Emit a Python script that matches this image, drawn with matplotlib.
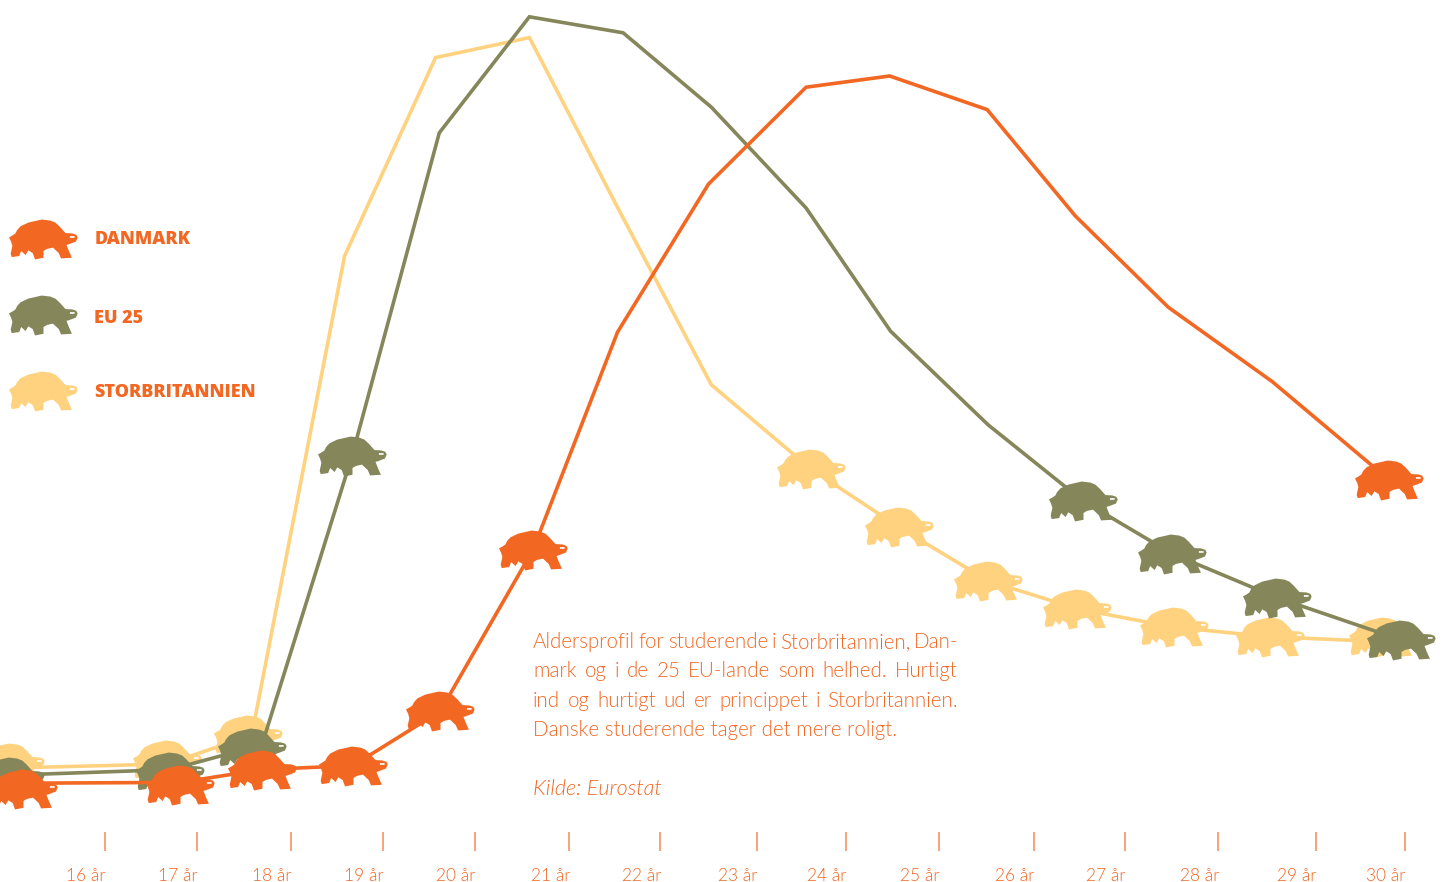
#!/usr/bin/env python3
# -*- coding: utf-8 -*-
# aldersprofil for studerende, tegnet med skildpadder
import matplotlib
matplotlib.use("Agg")
import matplotlib.pyplot as plt
from matplotlib import font_manager as fm
from matplotlib.path import Path
from matplotlib.transforms import ScaledTranslation

#the data: x is position on the age axis, y is share of students
DK_X = [15.12, 16.81, 17.69, 18.67, 19.61, 20.61, 21.52, 22.50, 23.55, 24.45, 25.50, 26.45, 27.45, 28.57, 29.83]
DK_Y = [0.21, 0.22, 0.38, 0.43, 1.11, 3.13, 5.85, 7.70, 8.91, 9.05, 8.63, 7.30, 6.16, 5.23, 4.00]
EU_X = [14.98, 16.70, 17.69, 18.66, 19.60, 20.57, 21.58, 22.53, 23.55, 24.46, 25.51, 26.53, 27.49, 28.62, 29.96]
EU_Y = [0.31, 0.38, 0.69, 4.30, 8.34, 9.79, 9.59, 8.66, 7.40, 5.86, 4.69, 3.74, 3.08, 2.53, 2.00]
UK_X = [14.98, 16.67, 17.58, 18.58, 19.56, 20.57, 21.55, 22.53, 23.60, 24.55, 25.51, 26.47, 27.51, 28.55, 29.76]
UK_Y = [0.40, 0.45, 0.81, 6.80, 9.28, 9.53, 7.34, 5.19, 4.14, 3.41, 2.74, 2.39, 2.16, 2.04, 1.98]

#the turtles sit a little off the line in places, so they get their own lists
DK_TURTLE_X = [15.12, 16.81, 17.69, 18.67, 19.61, 20.61, 29.83]
DK_TURTLE_Y = [0.14, 0.19, 0.38, 0.43, 1.11, 3.13, 4.00]
EU_TURTLE_X = [14.98, 16.70, 17.58, 18.66, 26.53, 27.49, 28.62, 29.96]
EU_TURTLE_Y = [0.29, 0.35, 0.65, 4.30, 3.74, 3.08, 2.53, 2.00]
UK_TURTLE_X = [14.98, 16.67, 17.54, 23.60, 24.55, 25.51, 26.47, 27.51, 28.55, 29.76]
UK_TURTLE_Y = [0.46, 0.50, 0.81, 4.14, 3.41, 2.74, 2.39, 2.16, 2.04, 2.04]

TICKS = [16.0, 16.99, 18.0, 18.99, 19.98, 21.0, 21.98, 23.02, 23.98, 24.98, 26.0, 26.98, 27.99, 29.04, 30.0]
TICK_LABELS = ["16 år", "17 år", "18 år", "19 år", "20 år", "21 år", "22 år", "23 år",
               "24 år", "25 år", "26 år", "27 år", "28 år", "29 år", "30 år"]

LEGEND = ["DANMARK", "EU 25", "STORBRITANNIEN"]

ORANGE = "#F26722"
OLIVE = "#85865A"
YELLOW = "#FFD280"
TEXT_COLOR = "#F26722"

W, H = 1444, 882

SHELL = [(28, 110), (40, 103), (47, 98), (52, 88), (62, 77), (85, 66), (125, 57), (150, 60), (165, 66), (178, 78),
         (195, 97), (215, 98), (227, 102), (231, 110), (226, 122), (205, 130), (198, 132), (205, 150), (214, 170),
         (182, 172), (175, 156), (158, 140), (140, 144), (130, 150), (130, 170), (105, 175), (98, 156), (85, 148),
         (77, 162), (64, 150), (58, 165), (36, 168), (33, 158), (38, 135), (34, 122), (28, 110)]
EYE = [(208, 106), (222, 106), (222, 111), (208, 111), (208, 106)]


def find_font(filename, weight, style="normal"):
    '''looks for one exact font file (Lato Light), falls back to Roboto light by name'''
    for f in fm.findSystemFonts():
        if f.endswith(filename):
            return fm.FontProperties(fname=f)
    return fm.FontProperties(family="Roboto", weight=weight, style=style)


def turtle_path():
    cx, cy = 130, 116
    verts = [(x - cx, cy - y) for x, y in SHELL] + [(x - cx, cy - y) for x, y in EYE[::-1]]
    codes = [Path.MOVETO] + [Path.LINETO] * (len(SHELL) - 2) + [Path.CLOSEPOLY]
    codes += [Path.MOVETO] + [Path.LINETO] * (len(EYE) - 2) + [Path.CLOSEPOLY]
    return Path(verts, codes)


def justify(fig, words, x0, x1, y, font):
    '''places the words one by one so that the line fills x0 to x1 (pixels)'''
    renderer = fig.canvas.get_renderer()
    items = [fig.text(0, 1 - y / H, w, color=TEXT_COLOR, fontproperties=font,
                      va="center", ha="left") for w in words]
    widths = [t.get_window_extent(renderer).width for t in items]
    gap = (x1 - x0 - sum(widths)) / (len(words) - 1)
    x = x0
    for t, w in zip(items, widths):
        t.set_x(x / W)
        x += w + gap


def main():
    fig = plt.figure(figsize=(W / 100, H / 100), dpi=100, facecolor="white")
    ax = fig.add_axes([0, (H - 832) / H, 1, 832 / H])
    ax.set_xlim(14.869, 30.42)
    ax.set_ylim(-0.4, 10.0)
    for s in ax.spines.values():
        s.set_visible(False)
    ax.set_yticks([])

    body = find_font("Lato-Light.ttf", "light")
    body.set_size(14.8)
    italic = find_font("Lato-LightItalic.ttf", "light", "italic")
    italic.set_size(15.6)
    small = body.copy()
    small.set_size(12.5)

    turtle = turtle_path()
    size = 69 * 72 / 100

    series = [(UK_X, UK_Y, UK_TURTLE_X, UK_TURTLE_Y, YELLOW),
              (EU_X, EU_Y, EU_TURTLE_X, EU_TURTLE_Y, OLIVE),
              (DK_X, DK_Y, DK_TURTLE_X, DK_TURTLE_Y, ORANGE)]
    for xs, ys, tx, ty, color in series:
        ax.plot(xs, ys, color=color, lw=2.6, solid_joinstyle="miter", clip_on=False)
        ax.plot(tx, ty, ls="none", marker=turtle, markersize=size, markerfacecolor=color,
                markeredgewidth=0, clip_on=False)

    ax.set_xticks(TICKS)
    ax.set_xticklabels(TICK_LABELS, fontproperties=small, color=TEXT_COLOR)
    ax.tick_params(axis="x", length=13.7, width=1.1, color="#F58A55", pad=12)
    shift = ScaledTranslation(-19 / 100, 0, fig.dpi_scale_trans)
    for label in ax.get_xticklabels():
        label.set_transform(label.get_transform() + shift)

    #legend by hand, turtle and a heavy label
    legend_y = [238.5, 314.5, 390.5]
    text_y = [239, 319, 393]
    for name, color, ty, ly in zip(LEGEND, [ORANGE, OLIVE, YELLOW], legend_y, text_y):
        ax.plot([43 / W], [1 - ty / 832], transform=ax.transAxes, marker=turtle, markersize=size,
                color=color, markeredgewidth=0, clip_on=False)
        fig.text(94.5 / W, 1 - ly / H, name, color=ORANGE, fontsize=13, family=["Open Sans", "DejaVu Sans"],
                 weight="extra bold", va="center", ha="left")

    #the caption, three justified lines and a plain one
    fig.canvas.draw()
    justify(fig, "Aldersprofil for studerende i Storbritannien, Dan-".split(), 533, 958, 642, body)
    justify(fig, "mark og i de 25 EU-lande som helhed. Hurtigt".split(), 533, 958, 671, body)
    justify(fig, "ind og hurtigt ud er princippet i Storbritannien.".split(), 533, 958, 701, body)
    fig.text(533 / W, 1 - 730 / H, "Danske studerende tager det mere roligt.", color=TEXT_COLOR,
             fontproperties=body, va="center")
    fig.text(533 / W, 1 - 789 / H, "Kilde: Eurostat", color=TEXT_COLOR, fontproperties=italic, va="center")

    fig.savefig("out.png", dpi=100)


if __name__ == "__main__":
    main()
